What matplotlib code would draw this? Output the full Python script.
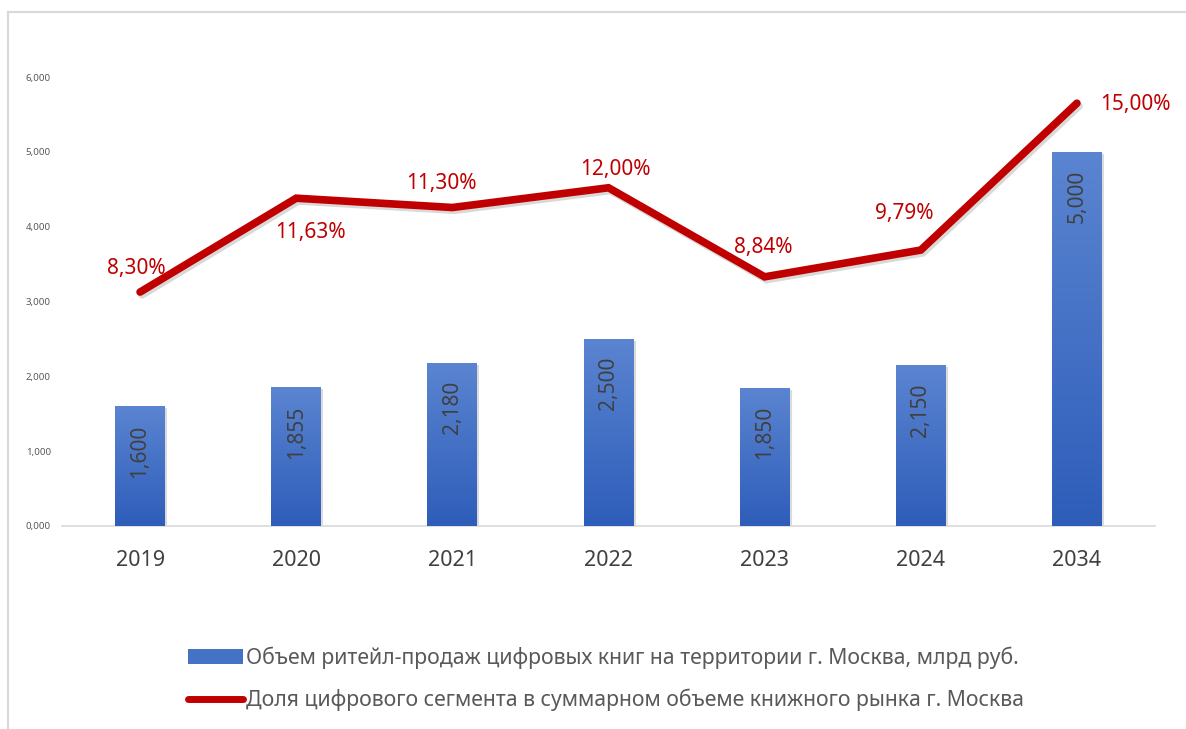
import matplotlib
matplotlib.use("Agg")
import matplotlib.pyplot as plt
import matplotlib.patheffects as pe
from matplotlib.lines import Line2D
from matplotlib.patches import Patch
from matplotlib.colors import LinearSegmentedColormap
import numpy as np

plt.rcParams['font.family'] = ['Noto Sans', 'DejaVu Sans']

years = ["2019", "2020", "2021", "2022", "2023", "2024", "2034"]
sales = [1600, 1855, 2180, 2500, 1850, 2150, 5000]
sales_labels = ["1,600", "1,855", "2,180", "2,500", "1,850", "2,150", "5,000"]
share = [8.30, 11.63, 11.30, 12.00, 8.84, 9.79, 15.00]
share_labels = ["8,30%", "11,63%", "11,30%", "12,00%", "8,84%", "9,79%", "15,00%"]
yticks = [0, 1000, 2000, 3000, 4000, 5000, 6000]
ytick_labels = ["0,000", "1,000", "2,000", "3,000", "4,000", "5,000", "6,000"]
legend_bar = "Объем ритейл-продаж цифровых книг на территории г. Москва, млрд руб."
legend_line = "Доля цифрового сегмента в суммарном объеме книжного рынка г. Москва"

W, H = 1186, 729
fig = plt.figure(figsize=(W / 100, H / 100), dpi=100)
ax = fig.add_axes([62 / W, 1 - 526 / H, (1155 - 62) / W, (526 - 77) / H])

x = np.arange(len(years))
bars = ax.bar(x, sales, width=0.32, color="#4472C4", zorder=2,
              path_effects=[pe.SimplePatchShadow(offset=(1.5, -1.5), shadow_rgbFace="#999999", alpha=0.35), pe.Normal()])

grad = np.linspace(0, 1, 256).reshape(-1, 1)
cmap = LinearSegmentedColormap.from_list("g", ["#2E5DBA", "#5B85D1"])
for b in bars:
    bx, by = b.get_x(), b.get_y()
    bw, bh = b.get_width(), b.get_height()
    im = ax.imshow(grad, cmap=cmap, aspect="auto", origin="lower",
                   extent=[bx, bx + bw, by, by + bh], zorder=3)
    im.set_clip_path(b)

for xi, v, lab in zip(x, sales, sales_labels):
    ax.annotate(lab, (xi, v), xytext=(0, -13), textcoords="offset points",
                rotation=90, ha="center", va="top", fontsize=15, color="#404040", zorder=5)

ax.set_xlim(-0.5, len(years) - 0.5)
ax.set_ylim(0, 6000)
ax.set_yticks(yticks)
ax.set_yticklabels(ytick_labels, fontsize=7, color="#595959")
ax.set_xticks(x)
ax.set_xticklabels(years, fontsize=15.5, color="#404040")
ax.tick_params(axis="both", length=0)
ax.tick_params(axis="x", pad=17)
ax.tick_params(axis="y", pad=8)
for s in ["top", "right", "left"]:
    ax.spines[s].set_visible(False)
ax.spines["bottom"].set_color("#D9D9D9")
ax.spines["bottom"].set_linewidth(1.2)

ax2 = ax.twinx()
ax2.set_ylim(0, 15.93)
ax2.axis("off")
ax2.plot(x, share, color="#C00000", linewidth=5.5, solid_capstyle="round", solid_joinstyle="miter",
         zorder=4,
         path_effects=[pe.SimpleLineShadow(offset=(1.5, -2), shadow_color="#000000", alpha=0.15), pe.Normal()])

offsets = [(-3, 17), (10, -25), (-8, 17), (5, 13), (-1, 21), (-12, 26), (42, -1)]
for xi, v, lab, off in zip(x, share, share_labels, offsets):
    ax2.annotate(lab, (xi, v), xytext=off, textcoords="offset points",
                 ha="center", va="center", fontsize=15, color="#C00000")

handles = [Patch(facecolor="#4472C4", edgecolor="none"),
           Line2D([0], [0], color="#C00000", linewidth=5, solid_capstyle="round")]
leg = fig.legend(handles, [legend_bar, legend_line], loc="center",
                 bbox_to_anchor=(606 / W, 1 - 679 / H), ncol=1, frameon=False,
                 fontsize=15.3, labelcolor="#595959", handlelength=2.6, handletextpad=0.15,
                 labelspacing=0.95)

fig.add_artist(Line2D([7.5 / W, 1], [1 - 11.5 / H, 1 - 11.5 / H], color="#D9D9D9", linewidth=1.5,
                      transform=fig.transFigure))
fig.add_artist(Line2D([7.5 / W, 7.5 / W], [0, 1 - 11.5 / H], color="#D9D9D9", linewidth=1.5,
                      transform=fig.transFigure))

fig.savefig("out.png", dpi=100)
